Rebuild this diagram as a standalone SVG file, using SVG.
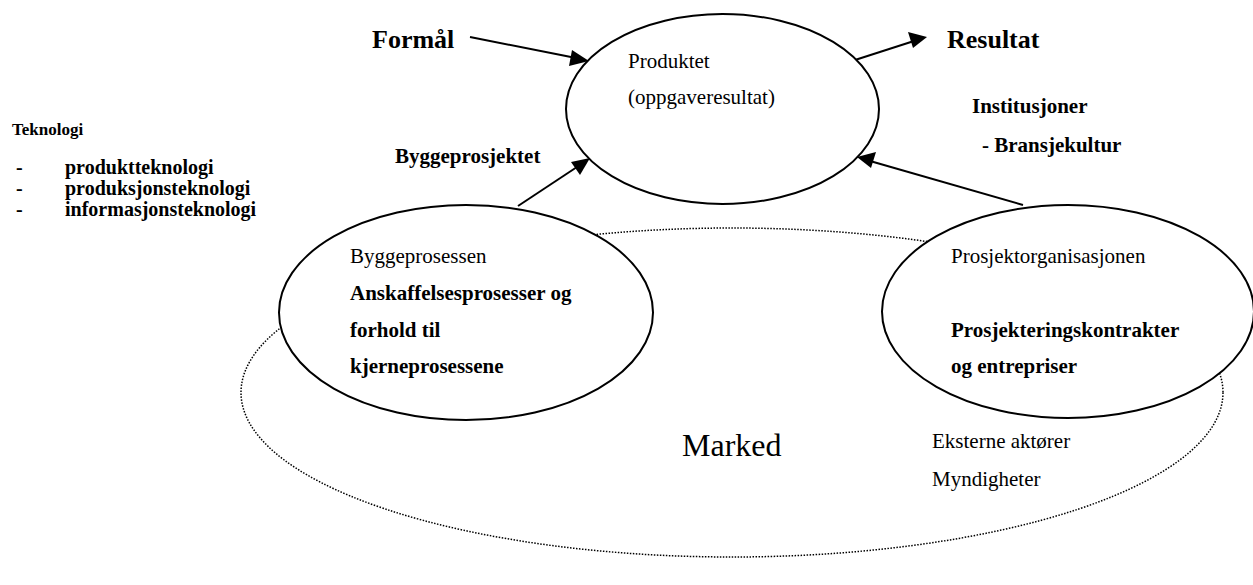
<svg xmlns="http://www.w3.org/2000/svg" width="1253" height="585" viewBox="0 0 1253 585">
  <defs>
    <style>
      text { font-family: "Liberation Serif", "Times New Roman", serif; fill: #000; font-size: 21px; }
      .b { font-weight: bold; }
      .big { font-size: 26px; }
      .huge { font-size: 32px; }
      .small { font-size: 17px; }
      .list { font-size: 20px; }
      .node { fill: #fff; stroke: #000; stroke-width: 2; }
      .market { fill: none; stroke: #000; stroke-width: 1.5; stroke-dasharray: 1.5 1.5; }
      .conn line { stroke: #000; stroke-width: 2; }
      .conn path { fill: #000; stroke: none; }
    </style>
  </defs>
  <rect width="1253" height="585" fill="#fff"/>

  <!-- market boundary (dotted) -->
  <g id="marked">
    <ellipse class="market" cx="732" cy="392.5" rx="491" ry="164.5"/>
    <text class="huge" x="682" y="456">Marked</text>
    <text x="932" y="448">Eksterne aktører</text>
    <text x="932" y="486">Myndigheter</text>
  </g>

  <!-- connectors: shaft plus filled triangular head -->
  <g id="connectors" class="conn">
    <line x1="470" y1="37" x2="576" y2="58"/>
    <path d="M589,61 L572,50 L569,66 z"/>
    <line x1="855" y1="60" x2="914" y2="41"/>
    <path d="M927,37 L908,32 L913,48 z"/>
    <line x1="518" y1="206" x2="580" y2="165"/>
    <path d="M590,158 L571,162 L580,175 z"/>
    <line x1="1023" y1="205" x2="870" y2="161"/>
    <path d="M857,157 L876,152 L871,168 z"/>
  </g>

  <!-- free labels -->
  <g id="formal"><text class="b big" x="372" y="48">Formål</text></g>
  <g id="resultat"><text class="b big" x="947" y="48">Resultat</text></g>
  <g id="byggeprosjektet"><text class="b" x="395" y="163">Byggeprosjektet</text></g>
  <g id="institusjoner">
    <text class="b" x="972" y="113">Institusjoner</text>
    <text class="b" x="982" y="152">- Bransjekultur</text>
  </g>
  <g id="teknologi">
    <text class="b small" x="12" y="135">Teknologi</text>
    <text class="b list" x="16" y="174">-</text>
    <text class="b list" x="65" y="174">produktteknologi</text>
    <text class="b list" x="16" y="195">-</text>
    <text class="b list" x="65" y="195">produksjonsteknologi</text>
    <text class="b list" x="16" y="216">-</text>
    <text class="b list" x="65" y="216">informasjonsteknologi</text>
  </g>

  <!-- nodes -->
  <g id="produktet">
    <ellipse class="node" cx="722.5" cy="109" rx="156.5" ry="95"/>
    <text x="628" y="68">Produktet</text>
    <text x="628" y="104">(oppgaveresultat)</text>
  </g>
  <g id="byggeprosessen">
    <ellipse class="node" cx="466" cy="312.5" rx="187" ry="107.5"/>
    <text x="350" y="263">Byggeprosessen</text>
    <text class="b" x="350" y="300">Anskaffelsesprosesser og</text>
    <text class="b" x="350" y="337">forhold til</text>
    <text class="b" x="350" y="373">kjerneprosessene</text>
  </g>
  <g id="prosjektorganisasjonen">
    <ellipse class="node" cx="1068" cy="311.5" rx="186" ry="106.5"/>
    <text x="951" y="263">Prosjektorganisasjonen</text>
    <text class="b" x="951" y="337">Prosjekteringskontrakter</text>
    <text class="b" x="951" y="373">og entrepriser</text>
  </g>
</svg>
